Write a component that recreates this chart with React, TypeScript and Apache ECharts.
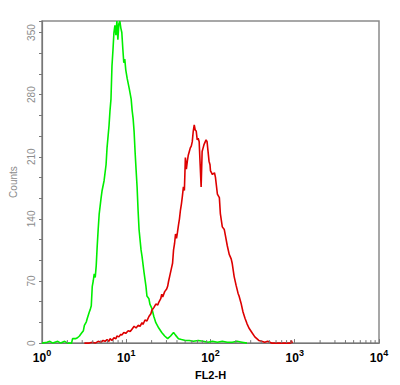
import React, { useEffect, useRef } from "react";
import * as echarts from "echarts";

// FL2-H channel value (x) and counts (y)
const GREEN_X = [1.0, 1.144, 1.24, 1.345, 1.538, 1.668, 1.858, 2.014, 2.244, 2.305, 2.499, 2.637, 2.783, 2.937, 3.1, 3.184, 3.36, 3.452, 3.643, 3.742, 3.845, 3.95, 4.057, 4.168, 4.282, 4.399, 4.519, 4.642, 4.769, 5.033, 5.17, 5.456, 5.758, 5.915, 6.243, 6.413, 6.588, 6.768, 6.953, 7.142, 7.337, 7.538, 7.743, 7.955, 8.172, 8.395, 8.624, 8.859, 9.101, 9.35, 9.605, 9.867, 10.27, 10.84, 11.44, 11.75, 12.07, 12.4, 12.74, 13.09, 13.45, 13.81, 14.19, 14.98, 15.38, 16.24, 17.14, 17.6, 18.58, 19.09, 20.14, 21.26, 22.44, 24.32, 26.37, 28.59, 31.0, 33.6, 36.43, 38.45, 41.68, 45.19, 50.33, 56.05, 62.43, 71.42, 81.72, 93.5, 105.5, 120.7, 138.1, 158.0, 180.8, 206.9, 236.8, 270.9];
const GREEN_Y = [0, 1, 2, 0, 2, 0, 2, 0, 0, 5, 5, 6, 8, 11, 14, 20, 24, 28, 35, 38, 42, 64, 70, 78, 74, 87, 109, 128, 145, 164, 172, 183, 201, 220, 245, 262, 275, 312, 330, 350, 358, 347, 363, 342, 360, 363, 355, 350, 332, 316, 320, 308, 298, 287, 275, 262, 253, 238, 215, 195, 176, 150, 128, 105, 98, 80, 64, 53, 50, 44, 39, 30, 23, 17, 12, 8, 5, 8, 12, 9, 5, 4, 3, 3, 2, 3, 2, 1, 2, 1, 2, 1, 1, 2, 1, 0];

const RED_X = [3.184, 3.643, 3.95, 4.282, 4.642, 5.033, 5.311, 5.605, 5.915, 6.243, 6.413, 6.768, 7.142, 7.538, 7.743, 8.172, 8.624, 8.859, 9.35, 9.867, 10.55, 11.14, 11.75, 12.4, 13.09, 13.81, 14.58, 15.38, 15.8, 16.68, 17.6, 18.58, 19.61, 20.14, 21.26, 22.44, 23.68, 24.32, 25.67, 26.37, 27.09, 28.59, 30.17, 31.0, 31.84, 32.71, 34.52, 35.46, 36.43, 37.42, 38.45, 39.5, 40.57, 41.68, 42.82, 43.99, 45.19, 46.42, 47.69, 48.99, 50.33, 51.7, 53.11, 54.56, 56.05, 57.58, 59.15, 60.77, 62.43, 64.13, 65.88, 67.68, 69.53, 71.42, 73.37, 75.38, 77.43, 79.55, 81.72, 83.95, 88.59, 91.01, 93.5, 96.05, 98.67, 100.0, 105.5, 111.4, 114.4, 120.7, 127.4, 130.9, 138.1, 145.8, 149.8, 158.0, 166.8, 176.0, 180.8, 190.9, 201.4, 212.6, 218.3, 230.5, 243.2, 256.7, 270.9, 285.9, 309.9, 336.0, 354.6, 374.2, 405.7, 439.9, 476.9, 531.1, 695.3, 885.9, 910.1, 935.0];
const RED_Y = [0, 0, 1, 0, 2, 1, 3, 2, 4, 2, 5, 3, 6, 5, 8, 7, 10, 9, 12, 11, 14, 13, 16, 19, 17, 20, 19, 23, 21, 26, 25, 30, 33, 37, 40, 44, 43, 46, 50, 55, 52, 58, 61, 64, 70, 75, 85, 90, 105, 112, 123, 118, 125, 133, 140, 150, 157, 166, 176, 172, 209, 196, 205, 212, 216, 220, 222, 227, 239, 246, 240, 239, 229, 231, 227, 201, 176, 216, 220, 224, 229, 227, 216, 205, 201, 194, 190, 192, 187, 168, 164, 146, 131, 128, 122, 110, 100, 95, 90, 75, 65, 56, 53, 45, 35, 28, 22, 17, 12, 7, 5, 3, 2, 1, 2, 0, 0, 0, 3, 0];

const X_MIN = 1;
const X_MAX = 10000;
const Y_MAX = 363;
const Y_INTERVAL = 70;
const MINOR_X = [2, 3, 4, 5, 6, 7, 8, 9, 20, 30, 40, 50, 60, 70, 80, 90, 200, 300, 400, 500, 600, 700, 800, 900, 2000, 3000, 4000, 5000, 6000, 7000, 8000, 9000];

const FONT = 'Arial, "Liberation Sans", sans-serif';

export default function App() {
  const ref = useRef<HTMLDivElement>(null);
  useEffect(() => {
    if (!ref.current) return;
    const chart = echarts.init(ref.current, null, { renderer: "svg" });
    const pairs = (xs: number[], ys: number[]) => xs.map((x, i) => [x, ys[i]]);
    chart.setOption({
      animation: false,
      backgroundColor: "#fff",
      grid: {
        left: 37,
        right: 21,
        top: 21,
        bottom: 37,
        show: true,
        borderColor: "#8a8a8a",
        borderWidth: 1.5,
      },
      xAxis: {
        type: "log",
        logBase: 10,
        min: X_MIN,
        max: X_MAX,
        name: "FL2-H",
        nameLocation: "middle",
        nameGap: 22,
        nameTextStyle: { fontFamily: FONT, fontSize: 11, fontWeight: "bold", color: "#000" },
        axisLine: { lineStyle: { color: "#777", width: 1.2 } },
        axisTick: { show: true, inside: true, length: 4, lineStyle: { color: "#777" } },
        splitLine: { show: false },
        axisLabel: {
          margin: 5,
          formatter: (v: number) => `{b|10}{e|${Math.round(Math.log10(v))}}`,
          rich: {
            b: { fontFamily: FONT, fontSize: 12, fontWeight: "bold", color: "#000", lineHeight: 16, verticalAlign: "bottom" },
            e: { fontFamily: FONT, fontSize: 9, fontWeight: "bold", color: "#000", lineHeight: 16, verticalAlign: "top" },
          },
        },
      },
      yAxis: {
        type: "value",
        min: 0,
        max: Y_MAX,
        interval: Y_INTERVAL,
        name: "Counts",
        nameLocation: "middle",
        nameGap: 24,
        nameRotate: 90,
        nameTextStyle: { fontFamily: FONT, fontSize: 10, color: "#8c8c8c" },
        axisLine: { show: true, lineStyle: { color: "#777", width: 1.2 } },
        axisTick: { show: true, length: 3, lineStyle: { color: "#777" } },
        minorTick: { show: true, splitNumber: 3, length: 3, lineStyle: { color: "#777" } },
        splitLine: { show: false },
        axisLabel: {
          rotate: 90,
          margin: 6,
          fontFamily: FONT,
          fontSize: 10,
          color: "#8c8c8c",
          showMaxLabel: false,
        },
      },
      series: [
        {
          type: "line",
          data: pairs(GREEN_X, GREEN_Y),
          showSymbol: false,
          lineStyle: { color: "#00ee00", width: 1.6 },
          z: 3,
        },
        {
          type: "line",
          data: pairs(RED_X, RED_Y),
          showSymbol: false,
          lineStyle: { color: "#dd0000", width: 1.6 },
          z: 4,
        },
        {
          type: "custom",
          data: MINOR_X.map((x) => [x, 0]),
          silent: true,
          clip: false,
          z: 5,
          renderItem: (params: any, api: any) => {
            const p = api.coord([api.value(0), 0]);
            return {
              type: "line",
              shape: { x1: p[0], y1: p[1], x2: p[0], y2: p[1] - 3 },
              style: { stroke: "#777", lineWidth: 1 },
            };
          },
        },
      ],
    });
    return () => chart.dispose();
  }, []);
  return (
    <div
      ref={ref}
      style={{ position: "fixed", left: 0, top: 0, width: 400, height: 385, background: "#fff" }}
    />
  );
}
